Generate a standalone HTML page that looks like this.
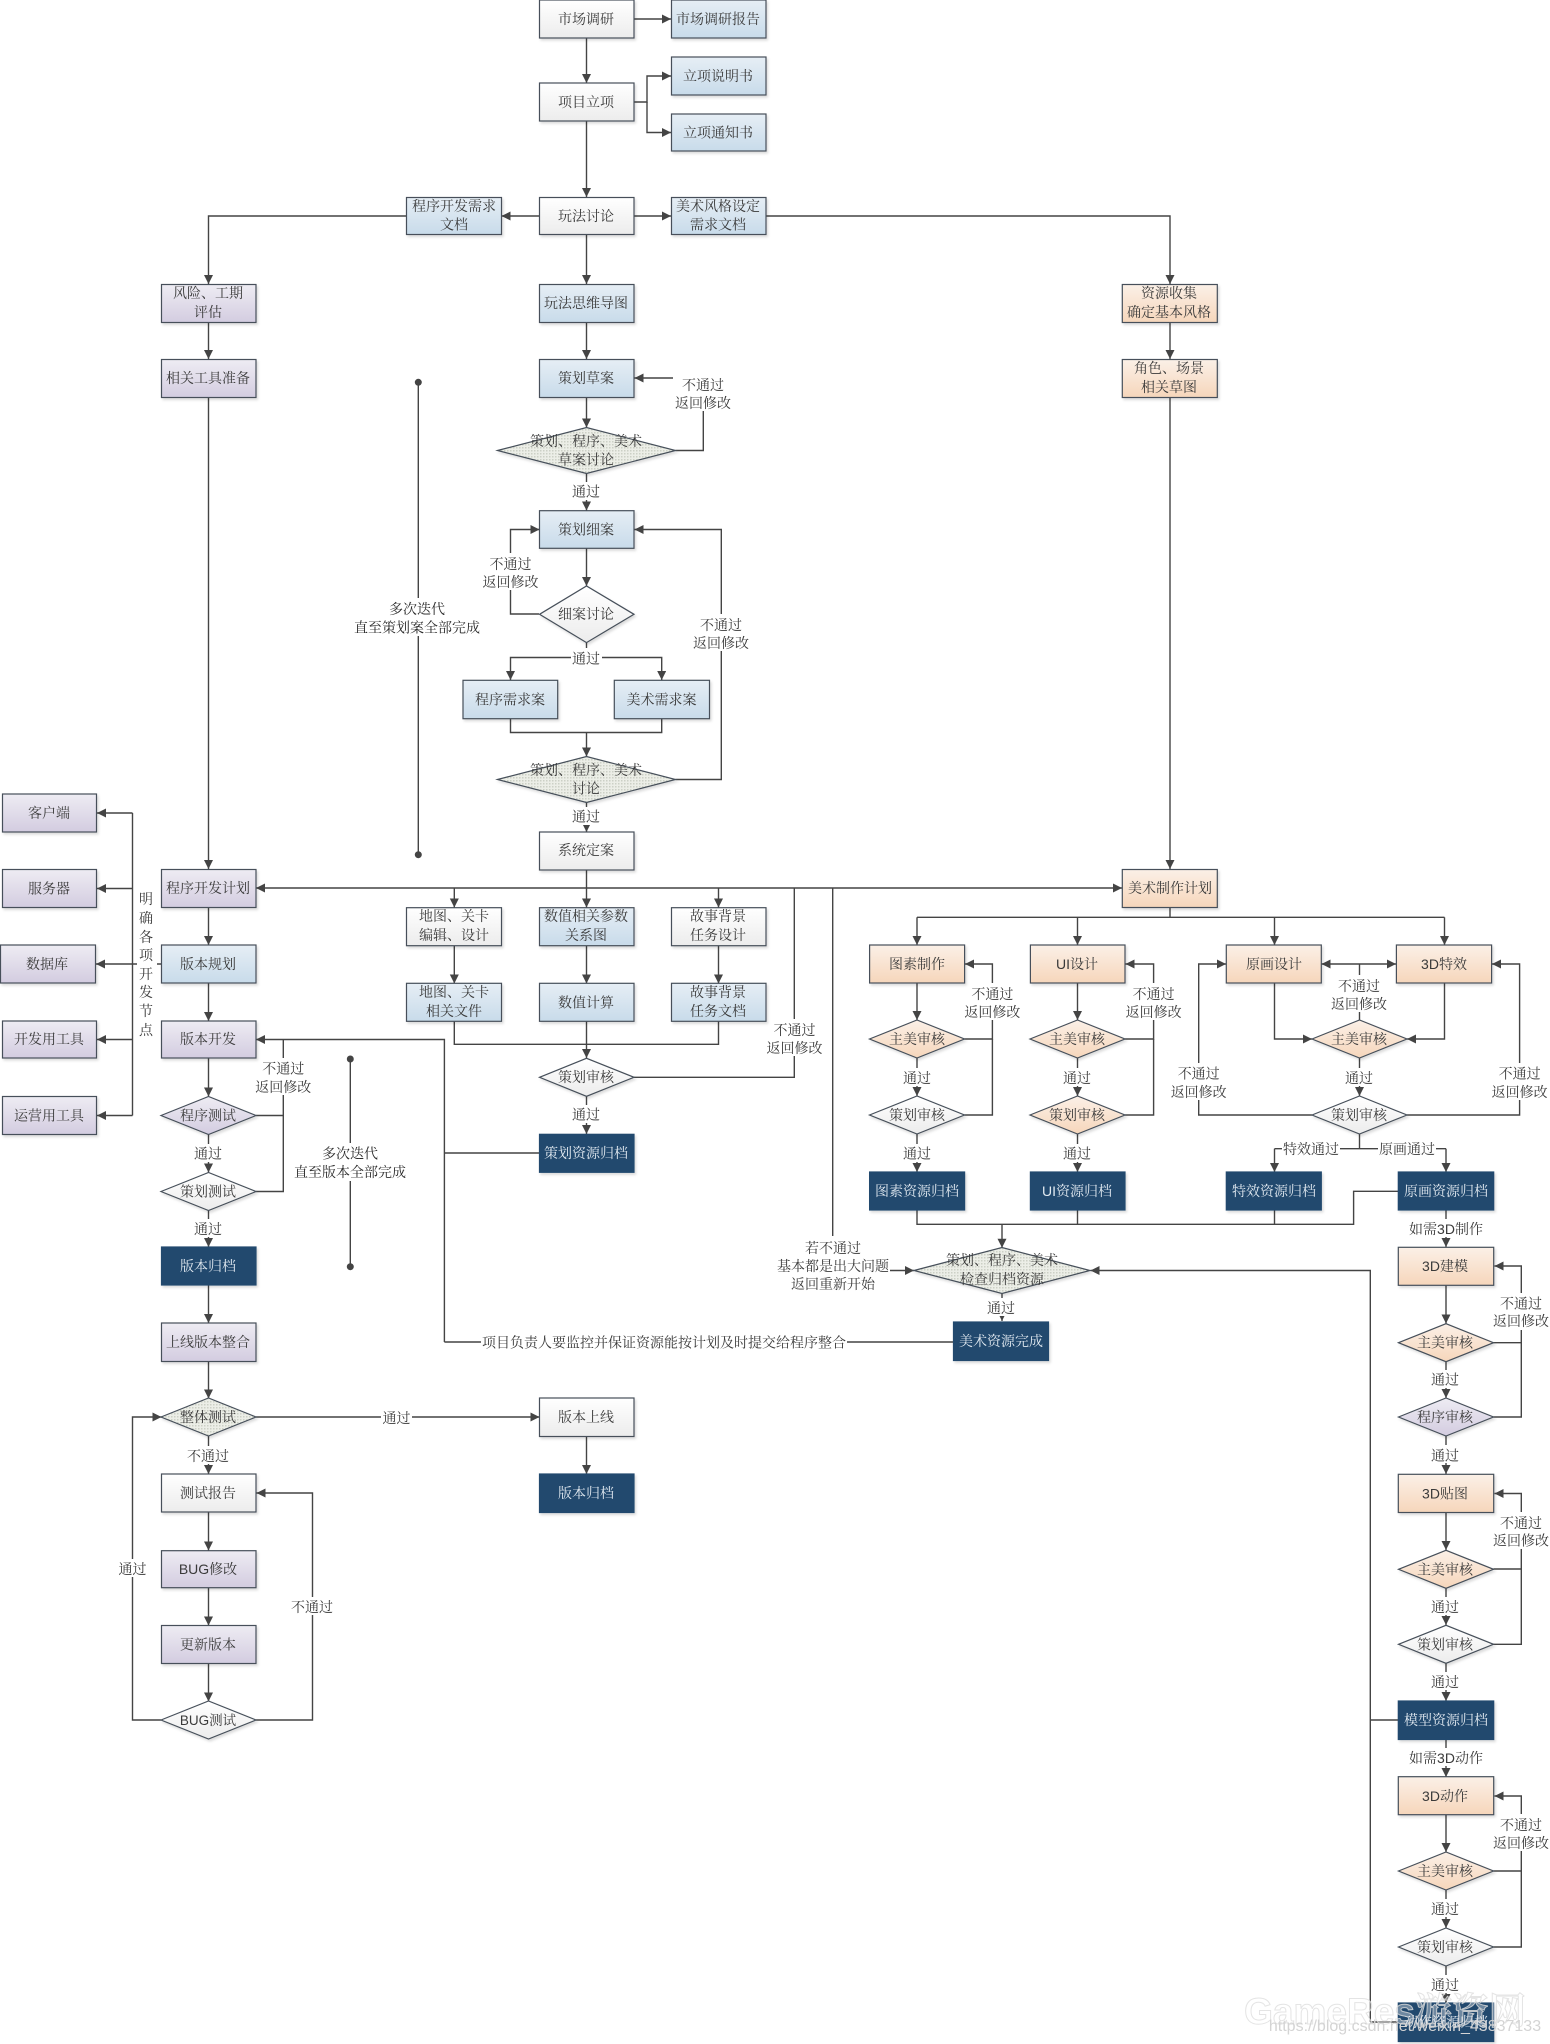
<!DOCTYPE html>
<html lang="zh"><head><meta charset="utf-8"><title>游戏开发流程图</title>
<style>
html,body{margin:0;padding:0;background:#fff;width:1550px;height:2044px;overflow:hidden}
svg{display:block}
text{font-family:"Liberation Sans","Noto Serif CJK SC",serif;font-size:14px;fill:#3a3a3a;text-anchor:middle}
.c{fill:none;stroke:#444;stroke-width:1.4}
.a{marker-end:url(#ah)}
.w{fill:#fff}
.box{stroke:#46505a;stroke-width:1.2;filter:url(#sh)}
.wb{fill:url(#gw)}.bl{fill:url(#gb)}.pu{fill:url(#gp)}.or{fill:url(#go)}.na{fill:#234a6e;stroke:#234a6e}
.dd{fill:url(#dots)}
.l{fill:#e2eaf1}
</style></head><body>
<svg width="1550" height="2044" viewBox="0 0 1550 2044" xmlns="http://www.w3.org/2000/svg">
<defs>
<linearGradient id="gw" x1="0" y1="0" x2="0" y2="1"><stop offset="0" stop-color="#fff"/><stop offset="1" stop-color="#ececec"/></linearGradient>
<linearGradient id="gb" x1="0" y1="0" x2="0" y2="1"><stop offset="0" stop-color="#e6eef5"/><stop offset="1" stop-color="#c8dbea"/></linearGradient>
<linearGradient id="gp" x1="0" y1="0" x2="0" y2="1"><stop offset="0" stop-color="#eeecf3"/><stop offset="1" stop-color="#d3cce0"/></linearGradient>
<linearGradient id="go" x1="0" y1="0" x2="0" y2="1"><stop offset="0" stop-color="#fbf0e7"/><stop offset="1" stop-color="#f6d6bb"/></linearGradient>
<pattern id="dots" width="3" height="3" patternUnits="userSpaceOnUse"><rect width="3" height="3" fill="#eceee7"/><rect width="1.5" height="1.5" fill="#ccd0c6"/></pattern>
<filter id="sh" x="-10%" y="-10%" width="125%" height="130%"><feDropShadow dx="1.5" dy="2" stdDeviation="1.2" flood-color="#000" flood-opacity=".14"/></filter>
<marker id="ah" markerUnits="userSpaceOnUse" markerWidth="10" markerHeight="10" refX="9" refY="4.5" orient="auto"><path d="M0 0L9 4.5L0 9z" fill="#444"/></marker>
<marker id="as" markerUnits="userSpaceOnUse" markerWidth="10" markerHeight="10" refX="0" refY="4.5" orient="auto"><path d="M9 0L0 4.5L9 9z" fill="#444"/></marker>
</defs>

<!-- connectors with arrowheads -->
<g class="c">
<path class="a" d="M634 19H671"/>
<path class="a" d="M586.5 38V83"/>
<path class="a" d="M586.5 121V197"/>
<path class="a" d="M634 102H647V76H671"/>
<path class="a" d="M647 102V132.5H671"/>
<path class="a" d="M634 216H671"/>
<path class="a" d="M539.5 216H501.5"/>
<path class="a" d="M586.5 234.5V284"/>
<path class="a" d="M586.5 322V359"/>
<path class="a" d="M586.5 397V427.5"/>
<path class="a" d="M586.5 473.5V510.5"/>
<path class="a" d="M586.5 548V586"/>
<path class="a" d="M766 216H1170V284"/>
<path class="a" d="M406.5 216H208.5V284"/>
<path class="a" d="M208.5 322V359"/>
<path class="a" d="M208.5 397V869"/>
<path class="a" d="M1170 322V359"/>
<path class="a" d="M1170 397V869"/>
<path class="a" d="M675.5 450.5H703.3V378H634.5"/>
<path class="a" d="M539 614H510.5V529.5H539.5"/>
<path class="a" d="M675.5 779.5H721.3V529.5H634.5"/>
<path d="M586.5 642V657.5"/>
<path class="a" d="M586.5 657.5H510.5V680"/>
<path class="a" d="M586.5 657.5H661.7V680"/>
<path d="M510.5 718.5V732.5H661.7V718.5"/>
<path class="a" d="M586.5 732.5V756.5"/>
<path class="a" d="M586.5 802.5V832"/>
<path class="a" d="M586.5 870V907.5"/>
<path class="a" d="M586.5 888H256"/>
<path class="a" d="M586.5 888H1122"/>
<path class="a" d="M454.3 888V907.5"/>
<path class="a" d="M718.5 888V907.5"/>
<path class="a" d="M454.3 945.5V983.5"/>
<path class="a" d="M586.5 945.5V983.5"/>
<path class="a" d="M718.5 945.5V983.5"/>
<path d="M454.3 1021.5V1044.3H718.5V1021.5"/>
<path class="a" d="M586.5 1021.5V1058"/>
<path d="M634 1077.3H794.3V888"/>
<path class="a" d="M586.5 1096.3V1134"/>
<path d="M539 1153H444.4"/>
<path class="a" d="M444.4 1342V1039.5H256"/>
<path d="M444.4 1342H953.5"/>
<path class="a" d="M832.7 888V1270.5H914"/>
<path class="a" d="M1002 1293.7V1321"/>
<path d="M1170 907.5V917.3"/>
<path d="M917 917.3H1444.5"/>
<path class="a" d="M917 917.3V945"/>
<path class="a" d="M1077.5 917.3V945"/>
<path class="a" d="M1274.5 917.3V945"/>
<path class="a" d="M1444.5 917.3V945"/>
<path class="a" d="M917 983V1020"/>
<path class="a" d="M917 1058V1096"/>
<path class="a" d="M917 1134V1172"/>
<path class="a" d="M964.5 1039H992.4V964H965"/>
<path d="M964.5 1115H992.4V1039"/>
<path class="a" d="M1077.5 983V1020"/>
<path class="a" d="M1077.5 1058V1096"/>
<path class="a" d="M1077.5 1134V1172"/>
<path class="a" d="M1125 1039H1153.6V964H1125.5"/>
<path d="M1125 1115H1153.6V1039"/>
<path class="a" d="M1274.5 983V1039H1312"/>
<path class="a" d="M1444.5 983V1039H1407"/>
<path class="a" d="M1359.5 1058V1096"/>
<path class="a" d="M1312 1115H1198.7V964H1226"/>
<path class="a" d="M1407 1115H1519.6V964H1492"/>
<path d="M1359.5 1020V964"/>
<path class="a" style="marker-start:url(#as)" d="M1321.5 964H1396"/>
<path d="M1359.5 1134V1148.7"/>
<path d="M1274.5 1148.7H1446"/>
<path class="a" d="M1274.5 1148.7V1172"/>
<path class="a" d="M1446 1148.7V1172"/>
<path d="M917 1210V1224.3H1353.6V1191.3H1398.5"/>
<path d="M1077.5 1210V1224.3"/>
<path d="M1274.5 1210V1224.3"/>
<path class="a" d="M1002 1224.3V1247.7"/>
<path class="a" d="M1446 1210V1247"/>
<path class="a" d="M1446 1285V1323.5"/>
<path class="a" d="M1446 1361.5V1398"/>
<path class="a" d="M1446 1436V1474"/>
<path class="a" d="M1446 1512.5V1550"/>
<path class="a" d="M1446 1588V1625"/>
<path class="a" d="M1446 1663V1701"/>
<path class="a" d="M1446 1739.5V1777"/>
<path class="a" d="M1446 1815V1852"/>
<path class="a" d="M1446 1890V1928"/>
<path class="a" d="M1446 1966V2003"/>
<path class="a" d="M1493.5 1342.7H1521.3V1266H1494.5"/>
<path d="M1493.5 1417H1521.3V1342.7"/>
<path class="a" d="M1493.5 1569H1521.3V1493.5H1494.5"/>
<path d="M1493.5 1644.3H1521.3V1569"/>
<path class="a" d="M1493.5 1871H1521.3V1796H1494.5"/>
<path d="M1493.5 1947H1521.3V1871"/>
<path class="a" d="M1370.3 2022V1270.5H1090.5"/>
<path d="M1398.5 1720H1370.3"/>
<path d="M1398.5 2022H1370.3"/>
<path d="M161 964H132.5"/>
<path d="M132.5 813V1115.5"/>
<path class="a" d="M132.5 813H97"/>
<path class="a" d="M132.5 888.5H97"/>
<path class="a" d="M132.5 964H96"/>
<path class="a" d="M132.5 1039.5H97"/>
<path class="a" d="M132.5 1115.5H97"/>
<path class="a" d="M208.5 908V945"/>
<path class="a" d="M208.5 983V1021"/>
<path class="a" d="M208.5 1058V1096.5"/>
<path class="a" d="M208.5 1134V1172.5"/>
<path class="a" d="M208.5 1210V1247"/>
<path class="a" d="M208.5 1285V1323"/>
<path class="a" d="M208.5 1361.5V1398.5"/>
<path class="a" d="M208.5 1436V1474"/>
<path class="a" d="M208.5 1512V1550.5"/>
<path class="a" d="M208.5 1588V1625.5"/>
<path class="a" d="M208.5 1663.5V1701.5"/>
<path d="M256 1115.5H283.3V1039.5"/>
<path d="M256 1191.5H283.3V1115.5"/>
<path class="a" d="M256 1417H539.5"/>
<path class="a" d="M586.5 1436.5V1474"/>
<path class="a" d="M161 1720H132.5V1417H161.5"/>
<path class="a" d="M256 1720H312.5V1493H256.5"/>
<path d="M418.3 382.3V854.7"/>
<path d="M350.3 1059V1266.7"/>
</g>
<circle cx="418.3" cy="382.3" r="3.5" fill="#444"/><circle cx="418.3" cy="854.7" r="3.5" fill="#444"/>
<circle cx="350.3" cy="1059" r="3.5" fill="#444"/><circle cx="350.3" cy="1266.7" r="3.5" fill="#444"/>

<!-- label backgrounds -->
<g class="w">
<rect x="673" y="374" width="58" height="37"/>
<rect x="482" y="553" width="58" height="37"/>
<rect x="692" y="614" width="58" height="37"/>
<rect x="254" y="1058" width="58" height="37"/>
<rect x="765" y="1019" width="58" height="37"/>
<rect x="963" y="983" width="58" height="37"/>
<rect x="1125" y="983" width="58" height="37"/>
<rect x="1330" y="975" width="58" height="37"/>
<rect x="1170" y="1063" width="58" height="37"/>
<rect x="1491" y="1063" width="58" height="37"/>
<rect x="1492" y="1293" width="58" height="37"/>
<rect x="1492" y="1512" width="58" height="37"/>
<rect x="1492" y="1814" width="58" height="37"/>
<rect x="571" y="482" width="31" height="18"/>
<rect x="571" y="648" width="31" height="18"/>
<rect x="571" y="807" width="31" height="18"/>
<rect x="571" y="1105" width="31" height="18"/>
<rect x="193" y="1144" width="31" height="18"/>
<rect x="193" y="1219" width="31" height="18"/>
<rect x="901" y="1068" width="31" height="18"/><rect x="901" y="1144" width="31" height="18"/>
<rect x="1062" y="1068" width="31" height="18"/><rect x="1062" y="1144" width="31" height="18"/>
<rect x="1344" y="1068" width="31" height="18"/>
<rect x="1282" y="1139" width="58" height="18"/><rect x="1378" y="1139" width="58" height="18"/>
<rect x="1408" y="1219" width="76" height="18"/>
<rect x="986" y="1298" width="31" height="18"/>
<rect x="1430" y="1370" width="31" height="18"/><rect x="1430" y="1445" width="31" height="18"/>
<rect x="1430" y="1597" width="31" height="18"/><rect x="1430" y="1672" width="31" height="18"/>
<rect x="1408" y="1748" width="76" height="18"/>
<rect x="1430" y="1899" width="31" height="18"/><rect x="1430" y="1975" width="31" height="18"/>
<rect x="186" y="1446" width="45" height="18"/>
<rect x="117" y="1559" width="31" height="18"/>
<rect x="290" y="1597" width="45" height="18"/>
<rect x="381" y="1408" width="31" height="18"/>
<rect x="481" y="1333" width="366" height="18"/>
<rect x="772" y="1236" width="118" height="56"/>
<rect x="352" y="598" width="132" height="38"/>
<rect x="291" y="1143" width="118" height="38"/>
<rect x="137" y="888" width="20" height="150"/>
</g>

<!-- boxes -->
<g class="box wb">
<rect x="539.5" y="0" width="94.5" height="38"/>
<rect x="539.5" y="83" width="94.5" height="38"/>
<rect x="539.5" y="197.5" width="94.5" height="37"/>
<rect x="539.5" y="832" width="94.5" height="38"/>
<rect x="406.5" y="907.7" width="95" height="38"/>
<rect x="671.5" y="907.7" width="94.5" height="38"/>
<rect x="539.5" y="1398" width="94.5" height="38.5"/>
<rect x="161.5" y="1474" width="94.5" height="38"/>
</g>
<g class="box bl">
<rect x="671.5" y="0" width="94.5" height="38"/>
<rect x="671.5" y="57" width="94.5" height="38"/>
<rect x="671.5" y="114" width="94.5" height="37"/>
<rect x="406.5" y="197.5" width="95" height="37"/>
<rect x="671.5" y="197.5" width="94.5" height="37"/>
<rect x="539.5" y="284.5" width="94.5" height="38"/>
<rect x="539.5" y="359.5" width="94.5" height="38"/>
<rect x="539.5" y="510.7" width="94.5" height="37.6"/>
<rect x="463" y="680.3" width="94.7" height="38.4"/>
<rect x="614.3" y="680.3" width="95.2" height="38.4"/>
<rect x="539.5" y="907.7" width="94.5" height="38"/>
<rect x="406.5" y="983.3" width="95" height="38"/>
<rect x="539.5" y="983.3" width="94.5" height="38"/>
<rect x="671.5" y="983.3" width="94.5" height="38"/>
<rect x="161.5" y="945" width="94.5" height="38"/>
</g>
<g class="box pu">
<rect x="161.5" y="284.5" width="94.5" height="38"/>
<rect x="161.5" y="359.5" width="94.5" height="38"/>
<rect x="2.5" y="794" width="94" height="38"/>
<rect x="2.5" y="869.5" width="94" height="38"/>
<rect x="0.5" y="945" width="95" height="38"/>
<rect x="2.5" y="1021" width="94" height="37"/>
<rect x="2.5" y="1096.5" width="94" height="38"/>
<rect x="161.5" y="869.5" width="94.5" height="38"/>
<rect x="161.5" y="1021" width="94.5" height="37"/>
<rect x="161.5" y="1323" width="94.5" height="38.5"/>
<rect x="161.5" y="1550.7" width="94.5" height="37"/>
<rect x="161.5" y="1625.5" width="94.5" height="38"/>
</g>
<g class="box or">
<rect x="1122.3" y="284.5" width="95" height="38"/>
<rect x="1122.3" y="359.5" width="95" height="38"/>
<rect x="1122.3" y="869.5" width="95" height="38"/>
<rect x="869.6" y="945" width="95" height="38"/>
<rect x="1030.4" y="945" width="94.6" height="38"/>
<rect x="1226.3" y="945" width="95" height="38"/>
<rect x="1396.4" y="945" width="95.2" height="38"/>
<rect x="1398.3" y="1247.3" width="95.4" height="38"/>
<rect x="1398.3" y="1474.3" width="95.4" height="38.2"/>
<rect x="1398.3" y="1776.7" width="95.4" height="38"/>
</g>
<g class="box na">
<rect x="161.5" y="1247" width="94.5" height="38"/>
<rect x="539.5" y="1134.3" width="94.5" height="38"/>
<rect x="869.6" y="1172" width="95" height="38"/>
<rect x="1030.4" y="1172" width="94.6" height="38"/>
<rect x="1226.3" y="1172" width="95" height="38"/>
<rect x="1398.3" y="1172" width="95.4" height="38"/>
<rect x="953.5" y="1322" width="95" height="38.5"/>
<rect x="539.5" y="1474" width="94.5" height="38.5"/>
<rect x="1398.3" y="1701" width="95.4" height="38.5"/>
<rect x="1398.3" y="2003" width="95.4" height="38.5"/>
</g>

<!-- diamonds -->
<g class="box dd">
<polygon points="497.5,450.5 586.5,427.5 675.5,450.5 586.5,473.5"/>
<polygon points="497.5,779.5 586.5,756.5 675.5,779.5 586.5,802.5"/>
<polygon points="914,1270.5 1002,1247.5 1090,1270.5 1002,1293.5"/>
<polygon points="161,1417 208.5,1398 256,1417 208.5,1436"/>
</g>
<g class="box wb">
<polygon points="539.5,614.3 586.5,586 634,614.3 586.5,642.6"/>
<polygon points="539.5,1077.3 586.5,1058.3 634,1077.3 586.5,1096.3"/>
<polygon points="161,1191.5 208.5,1172.5 256,1191.5 208.5,1210.5"/>
<polygon points="161,1720 208.5,1701 256,1720 208.5,1739"/>
<polygon points="869.5,1115 917,1096 964.5,1115 917,1134"/>
<polygon points="1312,1115 1359.5,1096 1407,1115 1359.5,1134"/>
<polygon points="1398.5,1644.3 1446,1625.3 1493.5,1644.3 1446,1663.3"/>
<polygon points="1398.5,1947 1446,1928 1493.5,1947 1446,1966"/>
</g>
<g class="box or">
<polygon points="869.5,1039 917,1020 964.5,1039 917,1058"/>
<polygon points="1030,1039 1077.5,1020 1125,1039 1077.5,1058"/>
<polygon points="1030,1115 1077.5,1096 1125,1115 1077.5,1134"/>
<polygon points="1312,1039 1359.5,1020 1407,1039 1359.5,1058"/>
<polygon points="1398.5,1342.7 1446,1323.7 1493.5,1342.7 1446,1361.7"/>
<polygon points="1398.5,1569.3 1446,1550.3 1493.5,1569.3 1446,1588.3"/>
<polygon points="1398.5,1871 1446,1852 1493.5,1871 1446,1890"/>
</g>
<g class="box pu">
<polygon points="161,1115.5 208.5,1096.5 256,1115.5 208.5,1134.5"/>
<polygon points="1398.5,1417 1446,1398 1493.5,1417 1446,1436"/>
</g>

<!-- box text -->
<g>
<text x="586" y="24">市场调研</text>
<text x="586" y="107">项目立项</text>
<text x="586" y="221">玩法讨论</text>
<text x="586" y="308">玩法思维导图</text>
<text x="586" y="383">策划草案</text>
<text x="586" y="534.5">策划细案</text>
<text x="586" y="619">细案讨论</text>
<text x="510" y="704.5">程序需求案</text>
<text x="661.5" y="704.5">美术需求案</text>
<text x="586" y="855">系统定案</text>
<text x="586" y="1007.5">数值计算</text>
<text x="586" y="1082">策划审核</text>
<text x="718" y="24">市场调研报告</text>
<text x="718" y="81">立项说明书</text>
<text x="718" y="137.5">立项通知书</text>
<text x="718" y="211">美术风格设定</text><text x="718" y="229.5">需求文档</text>
<text x="454" y="211">程序开发需求</text><text x="454" y="229.5">文档</text>
<text x="586" y="446">策划、程序、美术</text><text x="586" y="464.5">草案讨论</text>
<text x="586" y="775">策划、程序、美术</text><text x="586" y="793.5">讨论</text>
<text x="454" y="921">地图、关卡</text><text x="454" y="940">编辑、设计</text>
<text x="586" y="921">数值相关参数</text><text x="586" y="940">关系图</text>
<text x="718" y="921">故事背景</text><text x="718" y="940">任务设计</text>
<text x="454" y="997">地图、关卡</text><text x="454" y="1016">相关文件</text>
<text x="718" y="997">故事背景</text><text x="718" y="1016">任务文档</text>

<text x="208" y="298">风险、工期</text><text x="208" y="317">评估</text>
<text x="208" y="383">相关工具准备</text>
<text x="49" y="818">客户端</text>
<text x="49" y="893.5">服务器</text>
<text x="47" y="969">数据库</text>
<text x="49" y="1044">开发用工具</text>
<text x="49" y="1120.5">运营用工具</text>
<text x="208" y="893">程序开发计划</text>
<text x="208" y="969">版本规划</text>
<text x="208" y="1044">版本开发</text>
<text x="208" y="1120.5">程序测试</text>
<text x="208" y="1196.5">策划测试</text>
<text x="208" y="1347">上线版本整合</text>
<text x="208" y="1422">整体测试</text>
<text x="208" y="1498">测试报告</text>
<text x="208" y="1574">BUG修改</text>
<text x="208" y="1649.5">更新版本</text>
<text x="208" y="1725" style="font-size:13.5px">BUG测试</text>
<text x="586" y="1422">版本上线</text>

<text x="1169" y="298">资源收集</text><text x="1169" y="317">确定基本风格</text>
<text x="1169" y="373">角色、场景</text><text x="1169" y="392">相关草图</text>
<text x="1170" y="893">美术制作计划</text>
<text x="917" y="969">图素制作</text>
<text x="1077" y="969">UI设计</text>
<text x="1274" y="969">原画设计</text>
<text x="1444" y="969">3D特效</text>
<text x="917" y="1044">主美审核</text>
<text x="1077" y="1044">主美审核</text>
<text x="1359" y="1044">主美审核</text>
<text x="917" y="1120">策划审核</text>
<text x="1077" y="1120">策划审核</text>
<text x="1359" y="1120">策划审核</text>
<text x="1002" y="1265">策划、程序、美术</text><text x="1002" y="1284">检查归档资源</text>
<text x="1445" y="1271">3D建模</text>
<text x="1445" y="1347.7">主美审核</text>
<text x="1445" y="1422">程序审核</text>
<text x="1445" y="1498.5">3D贴图</text>
<text x="1445" y="1574.3">主美审核</text>
<text x="1445" y="1649.3">策划审核</text>
<text x="1445" y="1801">3D动作</text>
<text x="1445" y="1876">主美审核</text>
<text x="1445" y="1952">策划审核</text>
</g>
<g class="l">
<text class="l" x="208" y="1271">版本归档</text>
<text class="l" x="586" y="1158">策划资源归档</text>
<text class="l" x="917" y="1196">图素资源归档</text>
<text class="l" x="1077" y="1196">UI资源归档</text>
<text class="l" x="1274" y="1196">特效资源归档</text>
<text class="l" x="1446" y="1196">原画资源归档</text>
<text class="l" x="1001" y="1346">美术资源完成</text>
<text class="l" x="586" y="1498">版本归档</text>
<text class="l" x="1446" y="1725">模型资源归档</text>
<text class="l" x="1446" y="2027">动作资源归档</text>
</g>

<!-- connector labels -->
<g transform="translate(0 1)">
<text x="703" y="389">不通过</text><text x="703" y="407">返回修改</text>
<text x="510.5" y="568">不通过</text><text x="510.5" y="586">返回修改</text>
<text x="721" y="629">不通过</text><text x="721" y="647">返回修改</text>
<text x="283.3" y="1072.7">不通过</text><text x="283.3" y="1091">返回修改</text>
<text x="794.5" y="1034">不通过</text><text x="794.5" y="1052">返回修改</text>
<text x="992.4" y="998">不通过</text><text x="992.4" y="1016">返回修改</text>
<text x="1153.6" y="998">不通过</text><text x="1153.6" y="1016">返回修改</text>
<text x="1359" y="990">不通过</text><text x="1359" y="1008">返回修改</text>
<text x="1198.7" y="1077.7">不通过</text><text x="1198.7" y="1096">返回修改</text>
<text x="1519.6" y="1077.7">不通过</text><text x="1519.6" y="1096">返回修改</text>
<text x="1521" y="1307.7">不通过</text><text x="1521" y="1325">返回修改</text>
<text x="1521" y="1527">不通过</text><text x="1521" y="1544.5">返回修改</text>
<text x="1521" y="1829">不通过</text><text x="1521" y="1847">返回修改</text>
<text x="586" y="495.7">通过</text>
<text x="586" y="662.5">通过</text>
<text x="586" y="820.7">通过</text>
<text x="586" y="1118.6">通过</text>
<text x="208" y="1157.7">通过</text>
<text x="208" y="1233">通过</text>
<text x="917" y="1082">通过</text><text x="917" y="1157.7">通过</text>
<text x="1077" y="1082">通过</text><text x="1077" y="1157.7">通过</text>
<text x="1359" y="1082">通过</text>
<text x="1311" y="1153">特效通过</text>
<text x="1407" y="1153">原画通过</text>
<text x="1446" y="1233">如需3D制作</text>
<text x="1001" y="1312">通过</text>
<text x="1445" y="1383.7">通过</text><text x="1445" y="1459.3">通过</text>
<text x="1445" y="1611">通过</text><text x="1445" y="1686">通过</text>
<text x="1446" y="1762">如需3D动作</text>
<text x="1445" y="1913">通过</text><text x="1445" y="1989">通过</text>
<text x="208" y="1460">不通过</text>
<text x="132.5" y="1573">通过</text>
<text x="312" y="1611">不通过</text>
<text x="396.5" y="1422">通过</text>
<text x="664" y="1346.5">项目负责人要监控并保证资源能按计划及时提交给程序整合</text>
<text x="833" y="1252">若不通过</text><text x="833" y="1270">基本都是出大问题</text><text x="833" y="1288">返回重新开始</text>
<text x="417" y="613" style="fill:#2a2a2a">多次迭代</text><text x="417" y="631.5" style="fill:#2a2a2a">直至策划案全部完成</text>
<text x="350" y="1157.7" style="fill:#2a2a2a">多次迭代</text><text x="350" y="1176" style="fill:#2a2a2a">直至版本全部完成</text>
<text x="146" y="903">明</text><text x="146" y="922">确</text><text x="146" y="941">各</text><text x="146" y="959">项</text>
<text x="146" y="978">开</text><text x="146" y="996">发</text><text x="146" y="1015">节</text><text x="146" y="1034">点</text>
</g>

<!-- watermark -->
<text x="1385" y="2024" style="font-size:37px;font-weight:bold;fill:#fff;fill-opacity:.35;stroke:#dddddd;stroke-width:1;stroke-opacity:.8">GameRes游资网</text>
<text x="1405" y="2031" style="font-size:16px;fill:#d4d4d4">https://blog.csdn.net/weixin_43837133</text>
</svg>
</body></html>
